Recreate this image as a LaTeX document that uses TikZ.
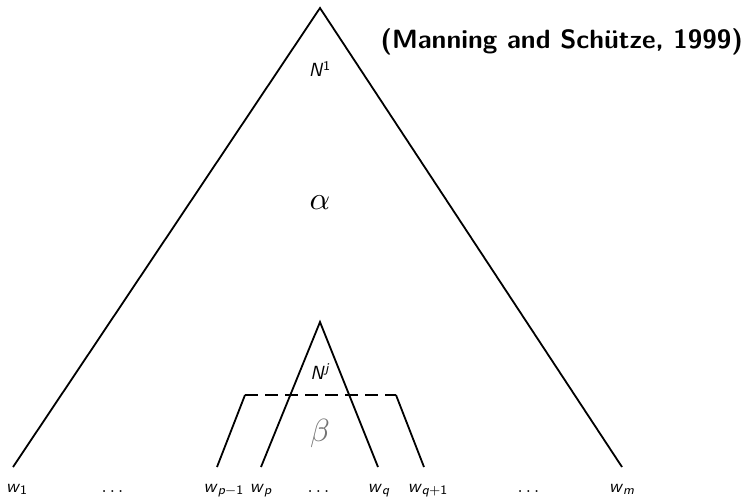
\documentclass[tikz,border=0pt]{standalone}
\usepackage{amsmath}
\usepackage{graphicx}
\usepackage{xcolor}
\newcommand{\sfi}[1]{\textsf{\itshape #1}}
\newcommand{\wlab}[1]{\scalebox{1.85}{#1}}
\newcommand{\nlab}[1]{\scalebox{1.9}{#1}}
\newcommand{\glab}[1]{\scalebox{3.2}{#1}}
\begin{document}
\begin{tikzpicture}[x=1pt,y=-1pt,
  edge/.style={line width=1.8pt},
  dashedge/.style={line width=1.8pt,dash pattern=on 13pt off 7pt},
  leaf/.style={anchor=base, inner sep=0pt},
  lab/.style={inner sep=0pt},
  greek/.style={inner sep=0pt}]
\useasboundingbox (0,0) rectangle (746,497);
% big triangle
\coordinate (top) at (320,8);
\coordinate (bl) at (13,467);
\coordinate (br) at (622,467);
\draw[edge,line join=miter] (bl) -- (top) -- (br);
% inner triangle
\coordinate (itop) at (320,322);
\coordinate (ibl) at (261,467);
\coordinate (ibr) at (378,467);
\draw[edge,line join=miter] (ibl) -- (itop) -- (ibr);
% trapezoid
\coordinate (tl) at (245,395);
\coordinate (tr) at (396,395);
\coordinate (tbl) at (217,467);
\coordinate (tbr) at (424,467);
\draw[edge] (tbl) -- (tl);
\draw[dashedge] (tl) -- (tr);
\draw[edge] (tr) -- (tbr);
% labels
\node[lab] (n1) at (320,69) {\nlab{\sfi{N}$^{\textsf{1}}$}};
\node[greek] (alpha) at (320,203) {\glab{$\alpha$}};
\node[lab] (nj) at (320,372) {\nlab{\sfi{N}$^{\sfi{j}}$}};
\node[greek,text=black!55] (beta) at (320,433) {\glab{$\beta$}};
\node[anchor=east, inner sep=0pt] (ref) at (743,42) {\scalebox{2.64}{\sffamily\bfseries (Manning and Sch\"utze, 1999)}};
% leaves
\node[leaf] (w1) at (17,492) {\wlab{\sfi{w}$_{\textsf{1}}$}};
\node[leaf] (d1) at (114,492) {\wlab{$\dots$}};
\node[leaf] (wp1) at (224,492) {\wlab{\sfi{w}$_{\sfi{p}-\textsf{1}}$}};
\node[leaf] (wp) at (261,492) {\wlab{\sfi{w}$_{\sfi{p}}$}};
\node[leaf] (d2) at (320,492) {\wlab{$\dots$}};
\node[leaf] (wq) at (379,492) {\wlab{\sfi{w}$_{\sfi{q}}$}};
\node[leaf] (wq1) at (428,492) {\wlab{\sfi{w}$_{\sfi{q}+\textsf{1}}$}};
\node[leaf] (d3) at (530,492) {\wlab{$\dots$}};
\node[leaf] (wm) at (622,492) {\wlab{\sfi{w}$_{\sfi{m}}$}};
\end{tikzpicture}
\end{document}
